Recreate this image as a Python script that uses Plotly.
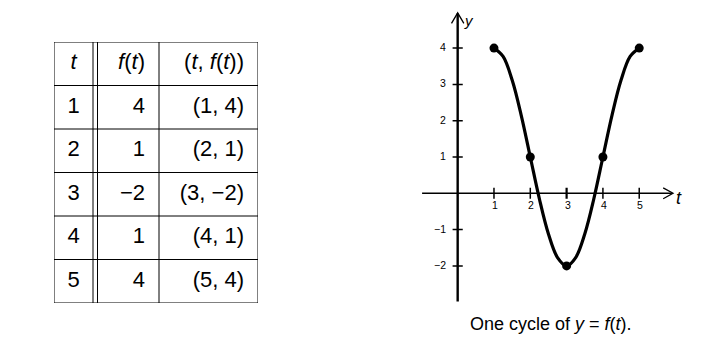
import plotly.graph_objects as go

# ---- data ----
t_vals = [1, 2, 3, 4, 5]
f_vals = [4, 1, -2, 1, 4]
# readings of the drawn curve
curve_t = [1, 1.25, 1.5, 1.75, 2, 2.25, 2.5, 2.75, 3, 3.25, 3.5, 3.75, 4, 4.25, 4.5, 4.75, 5]
curve_y = [4, 3.77, 3.12, 2.15, 1, -0.15, -1.12, -1.77, -2, -1.77, -1.12, -0.15, 1, 2.15, 3.12, 3.77, 4]
x_ticks = [1, 2, 3, 4, 5]
y_ticks = [-2, -1, 1, 2, 3, 4]
header = ["<i>t</i>", "<i>f</i>(<i>t</i>)", "(<i>t</i>, <i>f</i>(<i>t</i>))"]
caption = "One cycle of <i>y</i> = <i>f</i>(<i>t</i>)."

FONT = "Liberation Sans, Arial, sans-serif"
W, H = 708, 348


def num(v):
    return str(v).replace("-", "\u2212")


fig = go.Figure()

# ---------- graph ----------
fig.add_trace(go.Scatter(x=curve_t, y=curve_y, mode="lines",
                         line=dict(color="black", width=3.2, shape="spline"),
                         hoverinfo="skip", xaxis="x", yaxis="y"))
fig.add_trace(go.Scatter(x=t_vals, y=f_vals, mode="markers",
                         marker=dict(color="black", size=9),
                         xaxis="x", yaxis="y"))

shapes = []
# axes
shapes.append(dict(type="line", xref="x", yref="y", x0=-0.98, x1=5.9, y0=0, y1=0,
                   line=dict(color="black", width=1.5)))
shapes.append(dict(type="line", xref="x", yref="y", x0=0, x1=0, y0=-2.98, y1=4.95,
                   line=dict(color="black", width=2.4)))
# arrowheads
shapes.append(dict(type="path", xref="x", yref="y",
                   path="M 5.66,0.15 L 5.93,0 L 5.66,-0.15",
                   line=dict(color="black", width=1.3)))
shapes.append(dict(type="path", xref="x", yref="y",
                   path="M -0.17,4.68 L 0,4.97 L 0.17,4.68",
                   line=dict(color="black", width=1.3)))
annotations = []
tick_font = dict(size=10.5, family=FONT, color="black")
for v in x_ticks:
    shapes.append(dict(type="line", xref="x", yref="y", x0=v, x1=v, y0=-0.15, y1=0.15,
                       line=dict(color="black", width=1.5 if v != 3 else 2.2)))
    annotations.append(dict(x=v, y=0, xref="x", yref="y", text=num(v), showarrow=False,
                            yshift=-12, xshift=1, font=tick_font))
for v in y_ticks:
    shapes.append(dict(type="line", xref="x", yref="y", x0=-0.14, x1=0.14, y0=v, y1=v,
                       line=dict(color="black", width=1.5)))
    annotations.append(dict(x=0, y=v, xref="x", yref="y", text=num(v), showarrow=False,
                            xanchor="right", xshift=-10, yshift=1, font=tick_font))
annotations.append(dict(x=469 / W, y=1 - 10 / H, xref="paper", yref="paper", text="<i>y</i>",
                        showarrow=False, font=dict(size=15, family=FONT, color="black")))
annotations.append(dict(x=678.5 / W, y=1 - 198 / H, xref="paper", yref="paper", text="<i>t</i>",
                        showarrow=False, xanchor="center",
                        font=dict(size=18, family=FONT, color="black")))
annotations.append(dict(x=551 / W, y=1 - 324 / H, xref="paper", yref="paper", text=caption,
                        showarrow=False, xanchor="center", yanchor="middle",
                        font=dict(size=18, family=FONT, color="black")))

# ---------- table (drawn on its own axes, in pixel-like units) ----------
col_edges = [0, 39, 43.5, 105, 204]
n_rows = len(t_vals) + 1
tl = dict(color="black", width=1)
for r in range(n_rows + 1):
    shapes.append(dict(type="line", xref="x2", yref="y2", x0=0, x1=204, y0=r, y1=r, line=tl))
for c in col_edges:
    shapes.append(dict(type="line", xref="x2", yref="y2", x0=c, x1=c, y0=0, y1=n_rows, line=tl))

row_c = [r + 0.5 for r in range(n_rows)]
tfont = dict(size=22, family=FONT, color="black")
fig.add_trace(go.Scatter(x=[19.5] * n_rows, y=row_c, mode="text",
                         text=[header[0]] + [num(v) for v in t_vals],
                         textposition="middle center", textfont=tfont,
                         xaxis="x2", yaxis="y2", hoverinfo="skip"))
fig.add_trace(go.Scatter(x=[91] * n_rows, y=row_c, mode="text",
                         text=[header[1]] + [num(v) for v in f_vals],
                         textposition="middle left", textfont=tfont,
                         xaxis="x2", yaxis="y2", hoverinfo="skip"))
fig.add_trace(go.Scatter(x=[190] * n_rows, y=row_c, mode="text",
                         text=[header[2]] + [f"({num(a)}, {num(b)})" for a, b in zip(t_vals, f_vals)],
                         textposition="middle left", textfont=tfont,
                         xaxis="x2", yaxis="y2", hoverinfo="skip"))

hidden = dict(visible=False, showgrid=False, zeroline=False, fixedrange=True)
fig.update_layout(
    width=W, height=H,
    margin=dict(l=0, r=0, t=0, b=0),
    paper_bgcolor="white", plot_bgcolor="white",
    showlegend=False,
    xaxis=dict(range=[-1.2, 6.2], domain=[414.1 / W, 682.8 / W], **hidden),
    yaxis=dict(range=[-3.2, 5.2], domain=[1 - 309.46 / H, 1 - 4.54 / H], **hidden),
    xaxis2=dict(range=[0, 204], domain=[54 / W, 258 / W], anchor="y2", **hidden),
    yaxis2=dict(range=[n_rows, 0], domain=[1 - 303 / H, 1 - 42 / H], anchor="x2", **hidden),
    shapes=shapes,
    annotations=annotations,
)

fig.write_html("out.html")
